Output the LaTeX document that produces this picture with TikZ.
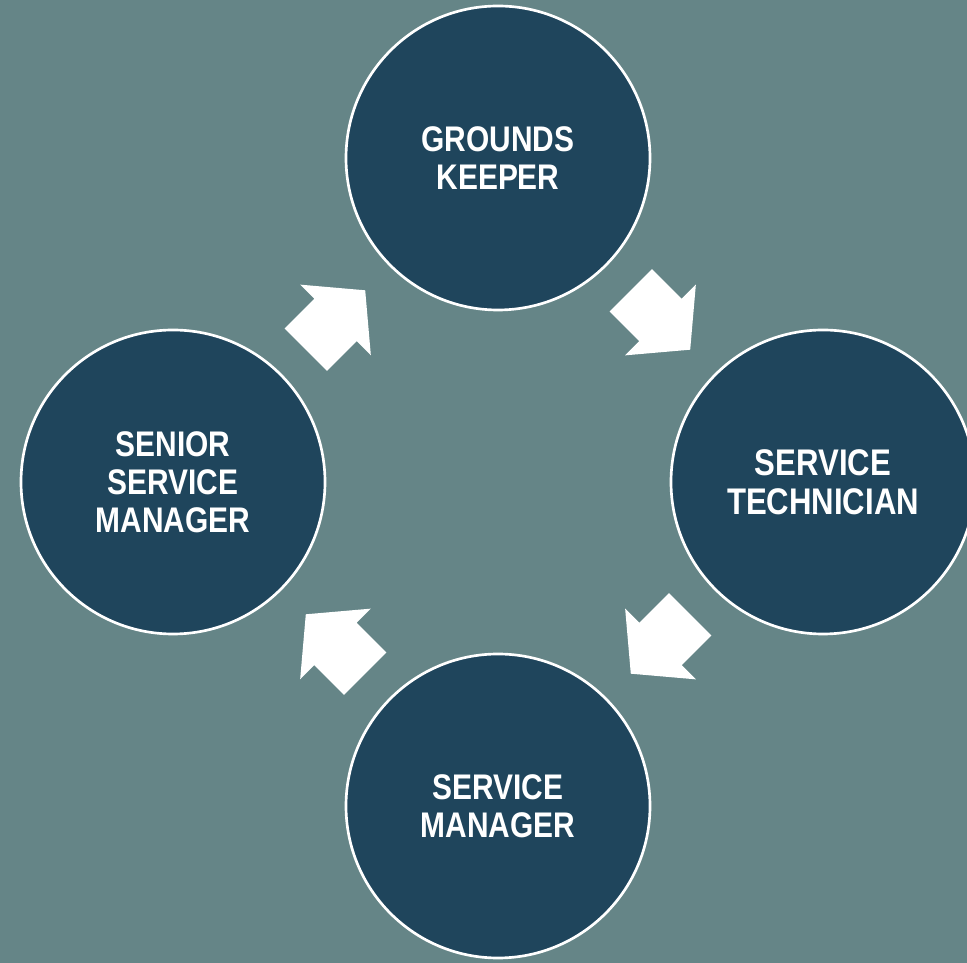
\documentclass[tikz,border=0pt]{standalone}
\usepackage{fontspec}
\newfontfamily\rolefont{Liberation Sans}[FakeStretch=0.84]
\usetikzlibrary{calc}
\definecolor{bgteal}{HTML}{658587}
\definecolor{rolenavy}{HTML}{1F455C}

\begin{document}
\begin{tikzpicture}[x=0.75pt,y=0.75pt,
  role/.style={circle,draw=white,line width=2pt,fill=rolenavy,minimum size=228pt,
    inner sep=0pt,text=white,align=center,
    font=\rolefont\bfseries\fontsize{26.7}{28.5}\selectfont},
  cyclearrow/.style={fill=white}]
  \useasboundingbox (0,0) rectangle (967,963);
  \fill[bgteal] (0,0) rectangle (967,963);
  \clip (0,0) rectangle (967,963);
  % the four roles
  \node[role] (grounds) at (498,805) {GROUNDS\\KEEPER};
  \node[role,font=\rolefont\bfseries\fontsize{27.8}{29.5}\selectfont] (tech) at (823,481) {SERVICE\\TECHNICIAN};
  \node[role] (mgr) at (498,157) {SERVICE\\MANAGER};
  \node[role] (senior) at (173,481) {SENIOR\\SERVICE\\MANAGER};
  % block arrows between neighbours
  \foreach \from/\to/\ang in {grounds/tech/-45,tech/mgr/-135,mgr/senior/135,senior/grounds/45}
    \fill[cyclearrow,shift={($(\from)!0.5!(\to)$)},rotate=\ang]
      (-42,-30) -- (0,-30) -- (0,-50) -- (42,0) -- (0,50) -- (0,30) -- (-42,30) -- cycle;
\end{tikzpicture}
\end{document}
